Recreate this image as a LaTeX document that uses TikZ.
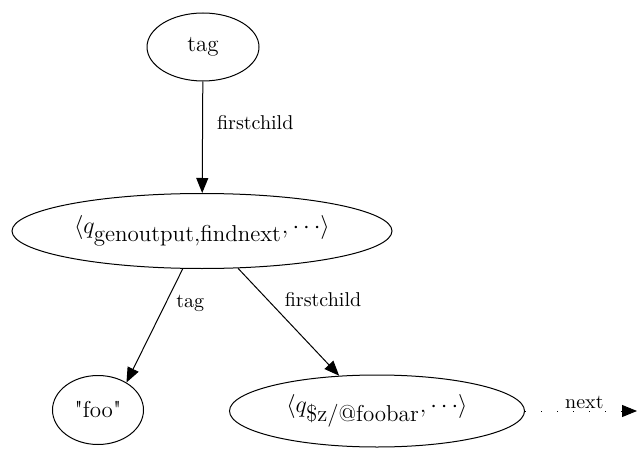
\documentclass[tikz,border=0pt]{standalone}
\usetikzlibrary{shapes.geometric,arrows.meta}
\begin{document}
\begin{tikzpicture}[x=0.5pt,y=-0.5pt,
    state/.style={draw,ellipse,inner sep=0pt,line width=0.5pt,font=\fontsize{11.5}{14}\selectfont},
    edge/.style={line width=0.5pt,-{Triangle[length=7.5pt,width=6pt]}},
    lbl/.style={inner sep=1pt,font=\fontsize{10}{12}\selectfont}]
    \useasboundingbox (0,0) rectangle (637,449);
    \node[state,minimum width=56pt,minimum height=34pt] (tag) at (203,47) {tag};
    \node[state,minimum width=190pt,minimum height=37.5pt] (gen) at (202,231)
        {$\langle q_{\mbox{genoutput,findnext}},\cdots\rangle$};
    \node[state,minimum width=45.5pt,minimum height=34.5pt] (foo) at (98,410) {\textquotedbl foo\textquotedbl};
    \node[state,minimum width=147.5pt,minimum height=36pt] (foobar) at (377,411)
        {$\langle q_{\mbox{\$z/@foobar}},\cdots\rangle$};
    \coordinate (nextend) at (637,411);
    \draw[edge] (tag) -- node[lbl,pos=.37,right=6pt] {firstchild} (gen);
    \draw[edge] (gen.243) -- node[lbl,pos=.3,right=4pt] {tag} (foo.44);
    \draw[edge] (gen.314) -- node[lbl,pos=.29,right=7.5pt] {firstchild} (foobar.137);
    \draw[edge,dash pattern=on 0.5pt off 7.5pt] (foobar) -- node[lbl,pos=.53,above=0pt] {next} (nextend);
\end{tikzpicture}
\end{document}
